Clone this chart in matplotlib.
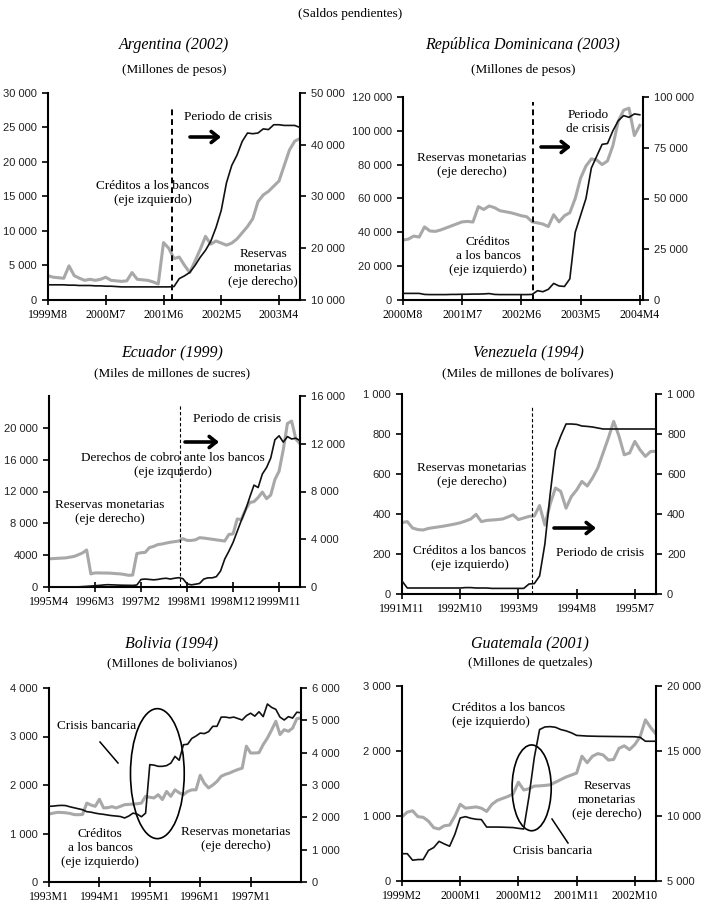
import numpy as np
import matplotlib
matplotlib.use('Agg')
import matplotlib.pyplot as plt
from matplotlib.patches import Ellipse
from matplotlib.lines import Line2D

# ---------------- data ----------------
arg_creditos = [2200, 2200, 2200, 2200, 2150, 2150, 2100, 2100, 2100, 2050, 2050, 2000, 2000,
                1950, 1900, 1900, 1900, 1900, 1900, 1900, 1900, 1900, 1900, 1900,
                1950, 3100, 3500, 4000, 5000, 6200, 7200, 8500, 10500, 13000, 17000, 19500,
                21000, 23000, 24200, 24100, 24200, 24800, 24700, 25400, 25400, 25300, 25300, 25300, 25000]
arg_reservas = [14700, 14400, 14300, 14200, 16600, 14700, 14200, 13800, 14000, 13800, 14000, 14400,
                13800, 13700, 13600, 13700, 15300, 14000, 13900, 13800, 13500, 13100, 21100, 20000,
                18000, 18300, 16700, 15300, 17500, 19800, 22300, 20800, 21400, 21000, 20600, 21000,
                21800, 23000, 24200, 25700, 29000, 30300, 31000, 32000, 33000, 36000, 39000, 40700, 41200]
arg_xlabels = ['1999M8', '2000M7', '2001M6', '2002M5', '2003M4']
arg_left_ticks = ['0', '5 000', '10 000', '15 000', '20 000', '25 000', '30 000']
arg_right_ticks = ['10 000', '20 000', '30 000', '40 000', '50 000']

rd_creditos = [3900, 3900, 3900, 3900, 3300, 3200, 3200, 3200, 3200, 3300, 3300, 3400, 3400, 3500,
               3500, 3600, 3800, 3300, 3200, 3200, 3200, 3200, 3200, 3200, 3300, 5500, 4900, 6300,
               9800, 8300, 8000, 12500, 40000, 50000, 60000, 78000, 85000, 92000, 92500, 100000,
               106000, 109000, 108000, 110000, 109500]
rd_reservas = [29500, 30000, 31500, 31000, 36000, 34000, 33800, 34500, 35500, 36500, 37500, 38500,
               38700, 38400, 46000, 44600, 46300, 45500, 44000, 43500, 43000, 42300, 41500, 41000,
               38500, 38000, 37400, 36200, 42000, 38500, 41500, 43000, 50000, 60000, 66000, 69500,
               69000, 66700, 68500, 76000, 88000, 93500, 94500, 81000, 86000]
rd_xlabels = ['2000M8', '2001M7', '2002M6', '2003M5', '2004M4']
rd_left_ticks = ['0', '20 000', '40 000', '60 000', '80 000', '100 000', '120 000']
rd_right_ticks = ['0', '25 000', '50 000', '75 000', '100 000']

ec_derechos = [0, 0, 0, 0, 0, 0, 0, 20, 50, 80, 120, 160, 200, 250, 290, 270, 250, 230, 220, 210,
               200, 250, 950, 1000, 950, 900, 950, 1050, 1100, 1000, 1100, 1170, 1050, 400, 270,
               350, 450, 1000, 1150, 1150, 1300, 2000, 3500, 4500, 5600, 7000, 8400, 9700, 11300,
               12800, 12500, 14200, 15000, 16200, 18500, 19000, 18200, 18900, 18600, 18700, 18400]
ec_reservas = [2360, 2380, 2400, 2420, 2440, 2500, 2560, 2700, 2850, 3100, 1100, 1180, 1180, 1170,
               1170, 1150, 1120, 1100, 1050, 980, 1000, 2800, 2870, 2900, 3300, 3400, 3550, 3600,
               3680, 3750, 3800, 3850, 4050, 3900, 3900, 3950, 4130, 4100, 4050, 4000, 3950, 3900,
               3850, 4400, 4450, 5700, 5650, 6500, 7080, 7150, 7500, 7950, 7400, 7700, 9000, 9700,
               11500, 13700, 13900, 12400, 12000]
ec_xlabels = ['1995M4', '1996M3', '1997M2', '1998M1', '1998M12', '1999M11']
ec_left_ticks = ['0', '4000', '8 000', '12 000', '16 000', '20 000']
ec_right_ticks = ['0', '4 000', '8 000', '12 000', '16 000']

ve_creditos = [65, 30, 30, 30, 30, 30, 30, 30, 30, 30, 30, 30, 32, 32, 30, 30, 30, 28, 28, 28, 28,
               28, 28, 28, 50, 52, 90, 250, 500, 720, 790, 850, 850, 848, 840, 838, 835, 830, 825,
               825, 825, 825, 825, 825, 825, 825, 825, 825, 825]
ve_reservas = [357, 362, 330, 322, 320, 328, 332, 336, 340, 345, 350, 356, 365, 375, 398, 362, 368,
               370, 372, 375, 385, 396, 372, 380, 388, 390, 442, 345, 450, 530, 513, 429, 487, 520,
               563, 540, 580, 630, 705, 780, 863, 790, 696, 705, 763, 720, 688, 713, 713]
ve_xlabels = ['1991M11', '1992M10', '1993M9', '1994M8', '1995M7']
ve_ticks = ['0', '200', '400', '600', '800', '1 000']

bo_creditos = [1560, 1565, 1575, 1580, 1575, 1550, 1530, 1510, 1490, 1450, 1440, 1420, 1405, 1395,
               1380, 1368, 1360, 1350, 1320, 1360, 1420, 1400, 1345, 1420, 2420, 2410, 2385, 2385,
               2400, 2450, 2590, 2510, 2830, 2840, 2960, 3010, 3070, 3060, 3100, 3210, 3210, 3400,
               3400, 3385, 3400, 3370, 3340, 3430, 3480, 3420, 3510, 3410, 3670, 3600, 3560, 3400,
               3340, 3410, 3380, 3500, 3490]
bo_reservas = [2100, 2130, 2155, 2150, 2140, 2120, 2085, 2080, 2090, 2440, 2380, 2340, 2560, 2290,
               2300, 2330, 2290, 2340, 2390, 2400, 2410, 2420, 2440, 2650, 2620, 2600, 2700, 2550,
               2800, 2650, 2850, 2760, 2700, 2800, 2850, 2850, 3300, 3050, 2910, 3000, 3110, 3270,
               3330, 3370, 3430, 3480, 3520, 4200, 3990, 3990, 4000, 4250, 4450, 4700, 4970, 4560,
               4710, 4660, 4760, 5050, 5070]
bo_xlabels = ['1993M1', '1994M1', '1995M1', '1996M1', '1997M1']
bo_left_ticks = ['0', '1 000', '2 000', '3 000', '4 000']
bo_right_ticks = ['0', '1 000', '2 000', '3 000', '4 000', '5 000', '6 000']

gu_creditos = [420, 420, 320, 330, 330, 470, 515, 610, 570, 535, 720, 970, 990, 965, 950, 945, 830,
               830, 830, 828, 825, 822, 810, 800, 1300, 1900, 2330, 2370, 2375, 2365, 2330, 2310,
               2280, 2240, 2235, 2230, 2228, 2226, 2225, 2224, 2223, 2222, 2221, 2220, 2219, 2210,
               2150, 2150, 2150]
gu_reservas = [9930, 10300, 10400, 9950, 9900, 9600, 9100, 9000, 9250, 9300, 10000, 10900, 10600,
               10650, 10700, 10600, 10350, 10900, 11200, 11350, 11500, 11700, 12600, 12000, 12100,
               12300, 12320, 12350, 12400, 12600, 12800, 13000, 13150, 13300, 14600, 14100, 14600,
               14800, 14700, 14300, 14350, 15200, 15400, 15100, 15500, 16100, 17400, 16800, 16300]
gu_xlabels = ['1999M2', '2000M1', '2000M12', '2001M11', '2002M10']
gu_left_ticks = ['0', '1 000', '2 000', '3 000']
gu_right_ticks = ['5 000', '10 000', '15 000', '20 000']

# ---------------- style ----------------
W, H = 701, 914
SERIF = 'Liberation Serif'
SANS = 'Liberation Sans'
BLACK = '#111111'
GRAY = '#a8a8a8'
plt.rcParams['font.family'] = SERIF

fig = plt.figure(figsize=(W / 100, H / 100), dpi=100)
fig.patch.set_facecolor('white')


def fpt(x, y):
    return (x / W, 1 - y / H)


def txt(x, y, s, size=9.5, ha='center', style='normal'):
    fig.text(x / W, 1 - y / H, s, ha=ha, va='center', fontsize=size, style=style,
             family=SERIF, linespacing=1.2, color='black')


def arrow(x0, x1, y):
    fig.add_artist(matplotlib.patches.FancyArrowPatch(
        fpt(x0, y), fpt(x1, y), transform=fig.transFigure,
        arrowstyle='->,head_width=4,head_length=5', lw=2.6, color='black',
        mutation_scale=1, shrinkA=0, shrinkB=0))


def panel(box, left_vals, right_vals, xstep, xlabels, xmax,
          lmax, lstep, llabels, rmin, rmax, rstep, rlabels, lmin=0):
    l, r, t, b = box
    ax = fig.add_axes([l / W, 1 - b / H, (r - l) / W, (b - t) / H])
    ax2 = ax.twinx()
    ax2.plot(np.arange(len(right_vals)), right_vals, color=GRAY, lw=2.2,
             solid_joinstyle='round', zorder=2)
    ax.plot(np.arange(len(left_vals)), left_vals, color=BLACK, lw=1.2, zorder=3)
    ax.set_zorder(ax2.get_zorder() + 1)
    ax.patch.set_visible(False)
    ax.set_xlim(0, xmax)
    ax.set_ylim(lmin, lmax)
    ax2.set_ylim(rmin, rmax)
    for a in (ax, ax2):
        a.spines['top'].set_visible(False)
        for s in ('left', 'right', 'bottom'):
            a.spines[s].set_linewidth(1.5)
    ax.spines['right'].set_visible(False)
    ax2.spines['left'].set_visible(False)
    ax2.spines['bottom'].set_visible(False)
    ax.set_xticks([i * xstep for i in range(len(xlabels))])
    ax.set_xticklabels(xlabels, fontsize=8.5, family=SERIF)
    lt = [lmin + i * lstep for i in range(len(llabels))]
    ax.set_yticks(lt)
    ax.set_yticklabels(llabels, fontsize=8, family=SANS, color='#222222')
    rt = [rmin + i * rstep for i in range(len(rlabels))]
    ax2.set_yticks(rt)
    ax2.set_yticklabels(rlabels, fontsize=8, family=SANS, color='#222222')
    ax.tick_params(axis='x', direction='inout', length=7, width=1.2, pad=3)
    ax.tick_params(axis='y', direction='out', length=4, width=1.2, pad=4)
    ax2.tick_params(axis='y', direction='out', length=4, width=1.2, pad=4)
    return ax, ax2


txt(350, 14, '(Saldos pendientes)')

# ---- Argentina ----
ax, ax2 = panel((48, 300, 93, 300), arg_creditos, arg_reservas, 11, arg_xlabels, 48,
                30000, 5000, arg_left_ticks, 10000, 50000, 10000, arg_right_ticks)
ax.axvline(23.6, ymax=0.93, color='black', lw=1.4, ls=(0, (3, 2)))
txt(174, 45, 'Argentina (2002)', size=11.5, style='italic')
txt(174, 70, '(Millones de pesos)')
txt(228, 117, 'Periodo de crisis')
arrow(190, 221, 137)
txt(153, 193, 'Créditos a los bancos\n(eje izquierdo)')
txt(263, 268, 'Reservas\nmonetarias\n(eje derecho)')

# ---- República Dominicana ----
ax, ax2 = panel((403, 643, 97, 300), rd_creditos, rd_reservas, 11, rd_xlabels, 44.6,
                120000, 20000, rd_left_ticks, 0, 100000, 25000, rd_right_ticks)
ax.axvline(24.2, ymax=0.975, color='black', lw=1.4, ls=(0, (3, 2)))
txt(523, 45, 'República Dominicana (2003)', size=11.5, style='italic')
txt(523, 70, '(Millones de pesos)')
txt(588, 122, 'Periodo\nde crisis')
arrow(541, 571, 147)
txt(472, 165, 'Reservas monetarias\n(eje derecho)')
txt(488, 256, 'Créditos\na los bancos\n(eje izquierdo)')

# ---- Ecuador ----
ax, ax2 = panel((49, 300, 396, 587), ec_derechos, ec_reservas, 11, ec_xlabels, 60,
                24000, 4000, ec_left_ticks, 0, 16000, 4000, ec_right_ticks)
ax.axvline(31.2, ymax=0.96, color='black', lw=0.8, ls=(0, (3, 2)))
txt(172, 352, 'Ecuador (1999)', size=11.5, style='italic')
txt(172, 373, '(Miles de millones de sucres)')
txt(237, 419, 'Periodo de crisis')
arrow(185, 219, 442)
txt(173, 465, 'Derechos de cobro ante los bancos\n(eje izquierdo)')
txt(110, 512, 'Reservas monetarias\n(eje derecho)')

# ---- Venezuela ----
ax, ax2 = panel((402, 656, 394, 594), ve_creditos, ve_reservas, 11, ve_xlabels, 48,
                1000, 200, ve_ticks, 0, 1000, 200, ve_ticks)
ax.axvline(24.6, ymax=0.94, color='black', lw=0.8, ls=(0, (3, 2)))
txt(528, 352, 'Venezuela (1994)', size=11.5, style='italic')
txt(528, 373, '(Miles de millones de bolívares)')
txt(472, 475, 'Reservas monetarias\n(eje derecho)')
txt(470, 558, 'Créditos a los bancos\n(eje izquierdo)')
txt(600, 553, 'Periodo de crisis')
arrow(554, 596, 528)

# ---- Bolivia ----
ax, ax2 = panel((49, 301, 688, 882), bo_creditos, bo_reservas, 12, bo_xlabels, 60,
                4000, 1000, bo_left_ticks, 0, 6000, 1000, bo_right_ticks)
ax.add_patch(Ellipse((25.8, 2234), 12.8, 2680, fill=False, ec='black', lw=1.2, clip_on=False))
txt(172, 643, 'Bolivia (1994)', size=11.5, style='italic')
txt(172, 663, '(Millones de bolivianos)')
txt(97, 726, 'Crisis bancaria')
fig.add_artist(Line2D([100 / W, 118 / W], [1 - 742 / H, 1 - 763 / H], color='black', lw=1.1))
txt(100, 848, 'Créditos\na los bancos\n(eje izquierdo)')
txt(236, 839, 'Reservas monetarias\n(eje derecho)')

# ---- Guatemala ----
ax, ax2 = panel((402, 656, 686, 881), gu_creditos, gu_reservas, 11, gu_xlabels, 48,
                3000, 1000, gu_left_ticks, 5000, 20000, 5000, gu_right_ticks)
ax.add_patch(Ellipse((24.5, 1433), 7.4, 1320, fill=False, ec='black', lw=1.2, clip_on=False))
txt(530, 643, 'Guatemala (2001)', size=11.5, style='italic')
txt(530, 663, '(Millones de quetzales)')
fig.text(452 / W, 1 - 715 / H, 'Créditos a los bancos\n(eje izquierdo)', ha='left', va='center',
         fontsize=9.5, family=SERIF, linespacing=1.2)
txt(607, 800, 'Reservas\nmonetarias\n(eje derecho)')
txt(553, 851, 'Crisis bancaria')
fig.add_artist(Line2D([552 / W, 568 / W], [1 - 819 / H, 1 - 843 / H], color='black', lw=1.1))

fig.savefig('out.png', dpi=100)
